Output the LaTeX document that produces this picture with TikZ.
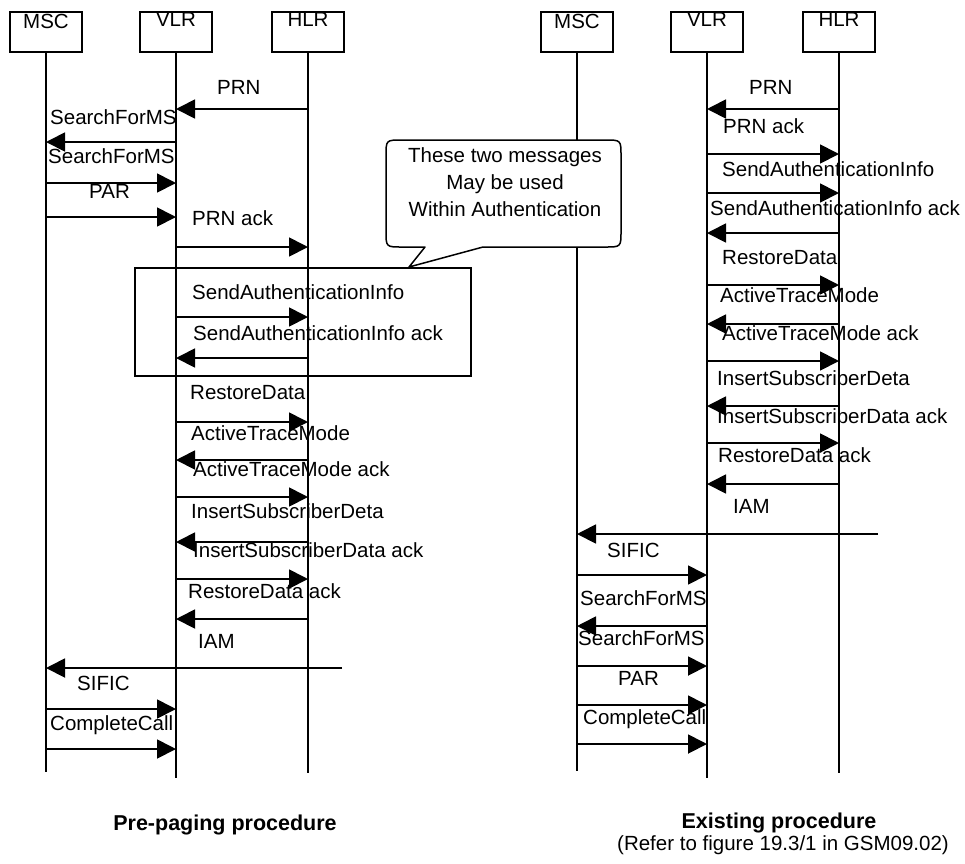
\documentclass[tikz,border=0pt]{standalone}
\usepackage{fontspec}
\setmainfont{Liberation Sans}
\usetikzlibrary{arrows.meta}
\begin{document}
\begin{tikzpicture}[x=1pt,y=-1pt,font=\fontsize{20.5}{27}\selectfont,
    entity/.style={draw,line width=1.5pt,minimum width=72pt,minimum height=40pt,inner sep=0pt,text height=14.7pt,text depth=#1},
    lifeline/.style={line width=1.8pt},
    msg/.style={line width=1.8pt,-{Triangle[length=19pt,width=19pt]}},
    lbl/.style={anchor=west,inner sep=0pt,text height=14.7pt,text depth=0pt}]

    \useasboundingbox (0,0) rectangle (965,863);

    %Entidades
    \foreach \n/\x/\t/\d in {mscA/46/MSC/21pt,vlrA/176/VLR/25pt,hlrA/308/HLR/25pt,mscB/577/MSC/21pt,vlrB/707/VLR/25pt,hlrB/839/HLR/25pt}
        \node[entity=\d] (\n) at (\x,32) {\t};
    \foreach \n/\e in {mscA/772,vlrA/778,hlrA/773,mscB/771,vlrB/778,hlrB/773}
        \draw[lifeline] (\n.south) -- (\n |- 0,\e);

    %IAM desde fuera
    \coordinate (iamA) at (342,668);
    \coordinate (iamB) at (878,534);

    %Mensajes
    \foreach \a/\b/\y in {hlrA/vlrA/109,vlrA/mscA/142,mscA/vlrA/183,mscA/vlrA/217,vlrA/hlrA/247,
        vlrA/hlrA/317,hlrA/vlrA/358,vlrA/hlrA/422,hlrA/vlrA/460,vlrA/hlrA/497,hlrA/vlrA/542,
        vlrA/hlrA/579,hlrA/vlrA/619,iamA/mscA/668,mscA/vlrA/709,mscA/vlrA/749,
        hlrB/vlrB/109,vlrB/hlrB/154,vlrB/hlrB/193,hlrB/vlrB/233,vlrB/hlrB/285,hlrB/vlrB/324,
        vlrB/hlrB/361,hlrB/vlrB/406,vlrB/hlrB/443,hlrB/vlrB/484,iamB/mscB/534,mscB/vlrB/575,
        vlrB/mscB/626,mscB/vlrB/666,mscB/vlrB/705,mscB/vlrB/744}
        \draw[msg] (\a |- 0,\y) -- (\b |- 0,\y);

    %Etiquetas
    \foreach \x/\y/\t [count=\i] in {217/87/PRN,50/117/SearchForMS,48/156/SearchForMS,89/191/PAR,
        192/218/PRN ack,192/292/SendAuthenticationInfo,193/333/SendAuthenticationInfo ack,
        190/392/RestoreData,191/433/ActiveTraceMode,193/469/ActiveTraceMode ack,
        191/511/InsertSubscriberDeta,193/550/InsertSubscriberData ack,188/591/RestoreData ack,
        198/641/IAM,77/683/SIFIC,50/723/CompleteCall,
        749/87/PRN,723/126/PRN ack,722/169/SendAuthenticationInfo,710/208/SendAuthenticationInfo ack,
        722/257/RestoreData,720/295/ActiveTraceMode,722/333/ActiveTraceMode ack,
        717/378/InsertSubscriberDeta,717/416/InsertSubscriberData ack,718/455/RestoreData ack,
        733/506/IAM,607/550/SIFIC,580/598/SearchForMS,578/638/SearchForMS,618/678/PAR,583/717/CompleteCall}
        \node[lbl] (lbl\i) at (\x,\y) {\t};

    %Recuadro autenticacion
    \draw[line width=1.5pt] (135,268) rectangle (471,376);

    %Globo
    \filldraw[fill=white,line width=1.5pt,line join=round] (425,247) -- (409,267) -- (483,247) -- (605,247)
        .. controls (621,247) .. (621,231) -- (621,156) .. controls (621,140) .. (605,140) -- (402,140)
        .. controls (386,140) .. (386,156) -- (386,231) .. controls (386,247) .. (402,247) -- cycle;
    \node[align=center] (nota) at (505,182) {These two messages\\May be used\hspace*{38pt}\\Within Authentication};

    %Pies
    \node[font=\fontsize{21.5}{26}\selectfont\bfseries] (pieA) at (225,825) {Pre-paging procedure};
    \node[font=\fontsize{21.5}{26}\selectfont\bfseries] (pieB) at (779,823) {Existing procedure};
    \node (pieC) at (783,845) {(Refer to figure 19.3/1 in GSM09.02)};
\end{tikzpicture}
\end{document}
